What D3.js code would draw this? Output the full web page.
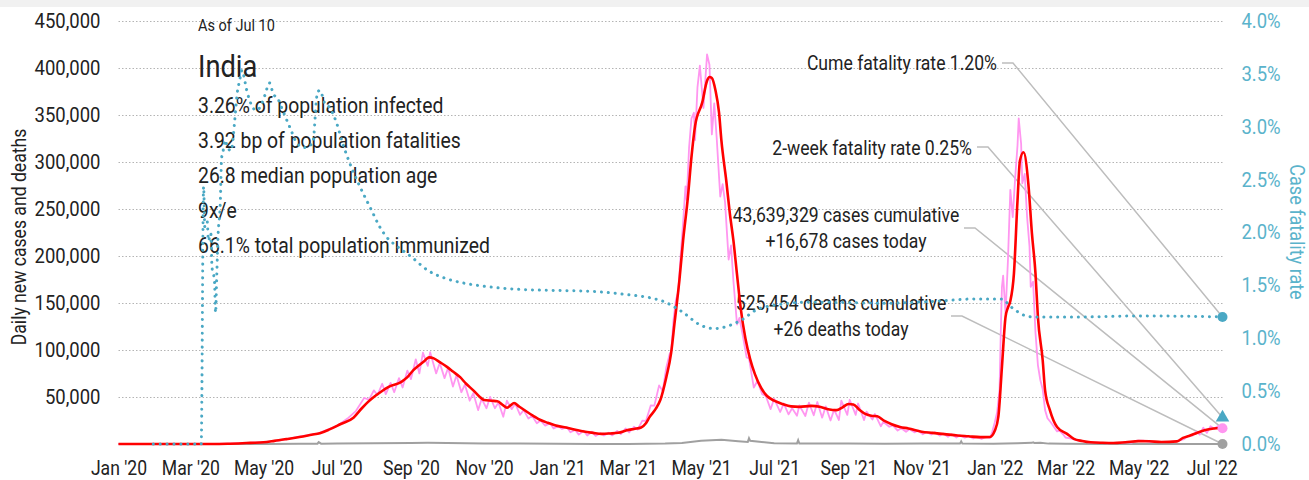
<!DOCTYPE html>
<html>
<head>
<meta charset="utf-8">
<script src="https://cdn.jsdelivr.net/npm/d3@7"></script>
<style>
  html, body { margin: 0; padding: 0; background: #fff; }
  svg { display: block; }
</style>
</head>
<body>
<svg id="chart" width="1309" height="480"></svg>
<script>
// ---- data ----------------------------------------------------------------
// Daily reported new cases
const casesDaily = [
  ["2020-01-01",0],["2020-03-01",1],["2020-03-20",50],["2020-04-01",400],["2020-04-15",1000],
  ["2020-05-01",2000],["2020-05-15",3900],["2020-06-01",8200],["2020-06-15",11000],["2020-07-01",19000],
  ["2020-07-10",27000],["2020-07-17",35000],["2020-07-24",49000],["2020-07-28",47000],["2020-08-01",57000],
  ["2020-08-04",52000],["2020-08-08",64000],["2020-08-11",53000],["2020-08-15",65000],["2020-08-18",55000],
  ["2020-08-22",70000],["2020-08-25",60000],["2020-08-29",78000],["2020-09-01",69000],["2020-09-05",90000],
  ["2020-09-08",75000],["2020-09-11",97000],["2020-09-15",83000],["2020-09-17",97500],["2020-09-22",75000],
  ["2020-09-25",86000],["2020-09-29",70000],["2020-10-02",81000],["2020-10-06",61000],["2020-10-09",73000],
  ["2020-10-13",55000],["2020-10-16",63000],["2020-10-20",46000],["2020-10-23",54000],["2020-10-27",36000],
  ["2020-10-30",48000],["2020-11-03",38000],["2020-11-06",50000],["2020-11-10",38000],["2020-11-13",44000],
  ["2020-11-17",29000],["2020-11-20",46000],["2020-11-24",37000],["2020-11-27",43000],["2020-12-01",31000],
  ["2020-12-04",36000],["2020-12-08",27000],["2020-12-11",30000],["2020-12-15",22000],["2020-12-18",25000],
  ["2020-12-22",19500],["2020-12-26",22000],["2020-12-29",16500],["2021-01-02",19000],["2021-01-05",16000],
  ["2021-01-09",18000],["2021-01-12",12500],["2021-01-16",15000],["2021-01-19",10000],["2021-01-23",14000],
  ["2021-01-26",9000],["2021-01-30",13000],["2021-02-02",8600],["2021-02-06",11500],["2021-02-09",9000],
  ["2021-02-13",12000],["2021-02-16",9100],["2021-02-20",13900],["2021-02-23",10500],["2021-02-27",16500],
  ["2021-03-02",12300],["2021-03-06",18300],["2021-03-09",15300],["2021-03-13",24800],["2021-03-16",24500],
  ["2021-03-20",40900],["2021-03-23",40700],["2021-03-27",62300],["2021-03-30",56200],["2021-04-02",81400],
  ["2021-04-05",96600],["2021-04-06",96900],["2021-04-08",131800],["2021-04-10",152900],["2021-04-12",161700],
  ["2021-04-14",200700],["2021-04-16",234700],["2021-04-18",273800],["2021-04-19",259100],["2021-04-21",315000],
  ["2021-04-23",346000],["2021-04-25",352000],["2021-04-26",323000],["2021-04-28",379000],["2021-04-30",402000],
  ["2021-05-03",357000],["2021-05-06",414000],["2021-05-08",403000],["2021-05-10",329000],["2021-05-12",362000],
  ["2021-05-14",326000],["2021-05-17",263000],["2021-05-19",276000],["2021-05-21",257000],["2021-05-24",196000],
  ["2021-05-26",211000],["2021-05-28",173000],["2021-05-31",127000],["2021-06-02",134000],["2021-06-05",114000],
  ["2021-06-08",92000],["2021-06-10",91000],["2021-06-14",60000],["2021-06-17",67000],["2021-06-21",53000],
  ["2021-06-24",51000],["2021-06-28",37000],["2021-07-01",48000],["2021-07-06",34000],["2021-07-09",43000],
  ["2021-07-13",31500],["2021-07-16",38000],["2021-07-20",30000],["2021-07-22",41000],["2021-07-27",29700],
  ["2021-07-30",44000],["2021-08-03",30500],["2021-08-06",44600],["2021-08-10",28000],["2021-08-13",40000],
  ["2021-08-17",25000],["2021-08-20",36500],["2021-08-24",25500],["2021-08-26",46000],["2021-08-31",30900],
  ["2021-09-02",47000],["2021-09-07",31000],["2021-09-09",43000],["2021-09-14",25400],["2021-09-16",34400],
  ["2021-09-21",26100],["2021-09-23",31900],["2021-09-28",18800],["2021-09-30",23500],["2021-10-05",18300],
  ["2021-10-08",19700],["2021-10-12",14300],["2021-10-15",16800],["2021-10-19",13000],["2021-10-22",15800],
  ["2021-10-26",12400],["2021-10-29",14300],["2021-11-02",10400],["2021-11-05",12700],["2021-11-09",10100],
  ["2021-11-12",12500],["2021-11-16",8900],["2021-11-19",11100],["2021-11-23",7600],["2021-11-26",10500],
  ["2021-11-30",6900],["2021-12-03",9200],["2021-12-07",6800],["2021-12-10",8500],["2021-12-14",5800],
  ["2021-12-17",7400],["2021-12-21",5300],["2021-12-24",7200],["2021-12-28",6400],["2021-12-30",13200],
  ["2022-01-01",22800],["2022-01-03",33700],["2022-01-05",58100],["2022-01-06",117100],["2022-01-07",167000],
  ["2022-01-08",179000],["2022-01-10",139000],["2022-01-12",194700],["2022-01-14",270000],["2022-01-16",241000],
  ["2022-01-18",282000],["2022-01-20",317500],["2022-01-21",346000],["2022-01-23",319000],["2022-01-24",277000],
  ["2022-01-26",287000],["2022-01-28",241000],["2022-01-30",209900],["2022-01-31",167000],["2022-02-02",172400],
  ["2022-02-04",118000],["2022-02-06",83900],["2022-02-08",68000],["2022-02-10",58100],["2022-02-12",36000],
  ["2022-02-14",27400],["2022-02-17",22600],["2022-02-20",16900],["2022-02-22",13400],["2022-02-24",14100],
  ["2022-02-27",10300],["2022-03-01",6900],["2022-03-05",5900],["2022-03-09",4600],["2022-03-12",3600],
  ["2022-03-16",2900],["2022-03-20",1800],["2022-03-25",1700],["2022-04-01",1300],["2022-04-05",800],
  ["2022-04-10",1100],["2022-04-15",1000],["2022-04-20",2100],["2022-04-25",1500],["2022-04-30",3600],
  ["2022-05-05",3500],["2022-05-10",2300],["2022-05-15",2200],["2022-05-20",2300],["2022-05-25",2100],
  ["2022-06-01",2700],["2022-06-04",3900],["2022-06-08",5200],["2022-06-11",8600],["2022-06-15",8800],
  ["2022-06-18",13200],["2022-06-21",9900],["2022-06-24",17300],["2022-06-27",11800],["2022-06-30",18900],
  ["2022-07-03",16100],["2022-07-06",18900],["2022-07-08",18800],["2022-07-10",16678]
];

// 7-day average of new cases
const casesAvg = [
  ["2020-01-01",0],["2020-03-01",2],["2020-03-15",12],["2020-03-25",60],["2020-04-01",230],["2020-04-10",600],
  ["2020-04-20",1200],["2020-05-01",1800],["2020-05-10",3300],["2020-05-20",5200],["2020-05-31",7400],
  ["2020-06-10",9800],["2020-06-17",11500],["2020-06-25",15500],["2020-07-04",21000],["2020-07-15",28000],
  ["2020-07-22",38000],["2020-07-27",44500],["2020-08-01",50000],["2020-08-07",55500],["2020-08-13",60500],
  ["2020-08-24",66000],["2020-08-29",71000],["2020-09-03",78500],["2020-09-08",84000],["2020-09-12",88000],
  ["2020-09-16",92000],["2020-09-20",91000],["2020-09-25",87000],["2020-10-01",82000],["2020-10-06",77000],
  ["2020-10-12",71000],["2020-10-17",64000],["2020-10-23",57000],["2020-10-28",50500],["2020-11-01",46700],
  ["2020-11-07",46000],["2020-11-12",45500],["2020-11-17",41000],["2020-11-20",38500],["2020-11-23",41000],
  ["2020-11-26",43500],["2020-11-30",40000],["2020-12-07",34000],["2020-12-12",30000],["2020-12-18",25500],
  ["2020-12-24",22500],["2020-12-30",20000],["2021-01-10",17000],["2021-01-21",13800],["2021-01-31",11800],
  ["2021-02-07",10800],["2021-02-14",11200],["2021-02-21",11900],["2021-02-28",14500],["2021-03-06",16000],
  ["2021-03-12",17500],["2021-03-16",22000],["2021-03-19",28600],["2021-03-24",37000],["2021-03-28",46700],
  ["2021-04-02",71000],["2021-04-06",96500],["2021-04-09",130000],["2021-04-13",175000],["2021-04-16",216000],
  ["2021-04-20",262000],["2021-04-23",305000],["2021-04-26",338000],["2021-05-02",363000],["2021-05-06",386000],
  ["2021-05-08",390000],["2021-05-10",389000],["2021-05-13",376000],["2021-05-16",352000],["2021-05-18",322000],
  ["2021-05-22",280000],["2021-05-25",245000],["2021-05-28",216000],["2021-05-31",180000],["2021-06-03",145000],
  ["2021-06-07",112000],["2021-06-11",90000],["2021-06-15",74000],["2021-06-20",60000],["2021-06-25",51000],
  ["2021-07-01",46000],["2021-07-08",42500],["2021-07-15",40000],["2021-07-22",39500],["2021-08-01",40500],
  ["2021-08-08",39500],["2021-08-15",37000],["2021-08-22",36000],["2021-08-27",39000],["2021-09-01",42500],
  ["2021-09-05",42000],["2021-09-10",36500],["2021-09-15",32000],["2021-09-20",30000],["2021-09-25",29500],
  ["2021-10-01",24500],["2021-10-07",21000],["2021-10-14",18000],["2021-10-21",16500],["2021-11-01",13000],
  ["2021-11-10",11800],["2021-11-20",10500],["2021-12-01",9000],["2021-12-10",8200],["2021-12-20",7300],
  ["2021-12-28",7500],["2022-01-01",14000],["2022-01-04",29000],["2022-01-07",82000],["2022-01-10",135000],
  ["2022-01-12",145000],["2022-01-14",152000],["2022-01-17",181000],["2022-01-20",259000],["2022-01-22",301000],
  ["2022-01-25",310000],["2022-01-29",277000],["2022-02-01",224000],["2022-02-04",181000],["2022-02-06",135000],
  ["2022-02-10",89000],["2022-02-12",57000],["2022-02-16",36000],["2022-02-22",18000],["2022-03-02",11000],
  ["2022-03-08",5500],["2022-03-15",3200],["2022-03-22",1800],["2022-04-01",1300],["2022-04-10",1100],
  ["2022-04-20",1900],["2022-05-01",3100],["2022-05-10",2900],["2022-05-20",2200],["2022-06-02",2800],
  ["2022-06-07",6500],["2022-06-12",8500],["2022-06-19",12000],["2022-06-25",14500],["2022-06-30",16000],
  ["2022-07-05",16800],["2022-07-10",17000]
];

// Daily reported deaths
const deathsDaily = [
  ["2020-01-01",0],["2020-04-01",5],["2020-05-01",70],["2020-06-01",220],["2020-06-15",330],["2020-06-16",2000],
  ["2020-06-18",340],["2020-07-01",450],["2020-08-01",800],["2020-09-01",1050],["2020-09-15",1200],
  ["2020-10-01",1100],["2020-11-01",550],["2020-12-01",480],["2021-01-01",250],["2021-02-01",110],
  ["2021-03-01",110],["2021-04-01",460],["2021-04-15",1100],["2021-05-01",3500],["2021-05-18",4500],
  ["2021-06-01",3000],["2021-06-09",2200],["2021-06-10",6150],["2021-06-11",3400],["2021-07-01",800],
  ["2021-07-20",600],["2021-07-21",4000],["2021-07-22",500],["2021-08-01",500],["2021-09-01",450],
  ["2021-10-01",300],["2021-11-01",450],["2021-12-03",400],["2021-12-04",2800],["2021-12-05",400],
  ["2021-12-31",300],["2022-01-20",700],["2022-02-01",1200],["2022-02-02",1700],["2022-02-03",1100],
  ["2022-02-08",1200],["2022-02-15",400],["2022-03-01",250],["2022-04-01",50],["2022-05-01",30],["2022-07-10",26]
];

// Cumulative case fatality rate, percent
const fatalityRate = [
  ["2020-01-30",0],["2020-03-10",0],["2020-03-12",2.43],["2020-03-13",2.05],["2020-03-15",2.1],["2020-03-16",1.92],
  ["2020-03-18",1.99],["2020-03-19",1.67],["2020-03-21",1.55],["2020-03-22",1.24],["2020-03-23",1.6],
  ["2020-03-24",1.95],["2020-03-26",2.3],["2020-03-27",2.7],["2020-03-28",2.75],["2020-03-30",2.87],
  ["2020-04-01",2.8],["2020-04-04",2.77],["2020-04-07",3.06],["2020-04-09",3.31],["2020-04-11",3.43],
  ["2020-04-13",3.53],["2020-04-14",3.5],["2020-04-17",3.34],["2020-04-21",3.2],["2020-04-25",3.15],
  ["2020-04-28",3.18],["2020-05-02",3.29],["2020-05-06",3.41],["2020-05-09",3.31],["2020-05-13",3.26],
  ["2020-05-17",3.15],["2020-05-23",2.99],["2020-05-29",2.84],["2020-06-04",2.8],["2020-06-11",2.84],
  ["2020-06-15",3.32],["2020-06-17",3.34],["2020-06-21",3.22],["2020-06-25",3.18],["2020-07-01",3.03],
  ["2020-07-06",2.84],["2020-07-12",2.65],["2020-07-18",2.49],["2020-07-23",2.37],["2020-07-30",2.21],
  ["2020-08-06",2.05],["2020-08-12",1.95],["2020-08-20",1.87],["2020-09-01",1.77],["2020-09-15",1.64],
  ["2020-10-01",1.56],["2020-10-15",1.52],["2020-11-01",1.49],["2020-12-01",1.46],["2021-01-01",1.45],
  ["2021-02-01",1.44],["2021-03-01",1.41],["2021-03-20",1.38],["2021-04-01",1.34],["2021-04-15",1.25],
  ["2021-05-01",1.12],["2021-05-12",1.09],["2021-05-25",1.12],["2021-06-05",1.18],["2021-06-15",1.26],
  ["2021-07-01",1.31],["2021-08-01",1.34],["2021-10-01",1.33],["2021-11-15",1.35],["2021-12-15",1.37],
  ["2022-01-07",1.37],["2022-01-14",1.3],["2022-01-20",1.25],["2022-01-27",1.21],["2022-02-03",1.2],
  ["2022-03-15",1.2],["2022-05-01",1.21],["2022-07-10",1.2]
];

// Latest values shown at the right edge
const latestDate = "2022-07-10";
const latestCases = 16678;
const latestDeaths = 26;
const cumeFatalityRate = 1.20;
const twoWeekFatalityRate = 0.25;
const cumulativeCases = 43639329;
const cumulativeDeaths = 525454;

// Tick values and text
const leftTicks = [50000,100000,150000,200000,250000,300000,350000,400000,450000];
const rightTicks = [0,0.5,1,1.5,2,2.5,3,3.5,4];
const monthTicks = ["2020-01-01","2020-03-01","2020-05-01","2020-07-01","2020-09-01","2020-11-01",
  "2021-01-01","2021-03-01","2021-05-01","2021-07-01","2021-09-01","2021-11-01",
  "2022-01-01","2022-03-01","2022-05-01","2022-07-01"];
const asOfLabel = "As of Jul 10";
const countryName = "India";
const infoLines = ["3.26% of population infected","3.92 bp of population fatalities",
  "26.8 median population age","9x/e","66.1% total population immunized"];

// ---- drawing -------------------------------------------------------------
const FONT = 'Roboto,"Liberation Sans",sans-serif';
const NARROW = 0.88;            // horizontal squeeze for a condensed look
const INK = "#222";
const BLUE = "#4aa8c4";
const BLUE_TEXT = "#5ab3cb";
const PINK = "#ff96f0";
const RED = "#ff0000";
const GRAY = "#a0a0a0";
const LEADER = "#bdbdbd";

const parse = d3.utcParse("%Y-%m-%d");
const toPoints = arr => arr.map(([d, v]) => ({ date: parse(d), value: v }));

const W = 1309, H = 480;
const plotLeft = 118.5, plotRight = 1222.5, plotTop = 20.5, plotBottom = 444;

const x = d3.scaleUtc().domain([parse("2020-01-01"), parse(latestDate)]).range([plotLeft, plotRight]);
const y = d3.scaleLinear().domain([0, 450000]).range([plotBottom, plotTop]);
const yR = d3.scaleLinear().domain([0, 4]).range([plotBottom, plotTop]);

const svg = d3.select("#chart").attr("font-family", FONT);

// narrow text helper: position, optional rotation, then squeeze along the baseline
function label(g, tx, ty, str, size, opts = {}) {
  const rot = opts.rotate ? ` rotate(${opts.rotate})` : "";
  return g.append("text")
    .attr("transform", `translate(${tx},${ty})${rot} scale(${NARROW},1)`)
    .attr("text-anchor", opts.anchor || "start")
    .attr("dominant-baseline", opts.baseline || "auto")
    .attr("font-size", size)
    .attr("fill", opts.fill || INK)
    .text(str);
}
function condenseAxis(g) {
  g.selectAll("text").each(function () {
    const t = d3.select(this);
    const tx = +t.attr("x") || 0;
    t.attr("x", tx / NARROW).attr("transform", `scale(${NARROW},1)`);
  });
}

svg.append("rect").attr("x", 0).attr("y", 0).attr("width", W).attr("height", 7).attr("fill", "#f1f1f1");

// dotted horizontal gridlines
svg.append("g").selectAll("line").data(leftTicks).join("line")
  .attr("x1", plotLeft).attr("x2", plotRight)
  .attr("y1", d => Math.round(y(d)) + 0.5).attr("y2", d => Math.round(y(d)) + 0.5)
  .attr("stroke", "#b4b4b4").attr("stroke-width", 1).attr("stroke-dasharray", "1.5,2");

// left axis
const gL = svg.append("g").attr("transform", `translate(${plotLeft},0)`)
  .call(d3.axisLeft(y).tickValues(leftTicks).tickSize(0).tickPadding(18).tickFormat(d3.format(",")));
gL.select(".domain").remove();
gL.attr("font-family", FONT).attr("font-size", 21);
gL.selectAll("text").attr("fill", INK);
condenseAxis(gL);

// bottom axis
const gB = svg.append("g").attr("transform", `translate(0,${plotBottom})`)
  .call(d3.axisBottom(x).tickValues(monthTicks.map(parse)).tickSize(0).tickPadding(17)
    .tickFormat(d3.utcFormat("%b '%y")));
gB.select(".domain").remove();
gB.attr("font-family", FONT).attr("font-size", 20);
gB.selectAll("text").attr("fill", INK);
condenseAxis(gB);

// right axis
const gR = svg.append("g").attr("transform", `translate(${plotRight},0)`)
  .call(d3.axisRight(yR).tickValues(rightTicks).tickSize(0).tickPadding(19).tickFormat(d => d.toFixed(1) + "%"));
gR.select(".domain").remove();
gR.attr("font-family", FONT).attr("font-size", 21);
gR.selectAll("text").attr("fill", BLUE_TEXT);
condenseAxis(gR);

// axis titles
label(svg, 20, 237, "Daily new cases and deaths", 20, { rotate: -90, anchor: "middle", baseline: "central" });
label(svg, 1297, 232, "Case fatality rate", 20.5, { rotate: 90, anchor: "middle", baseline: "central", fill: BLUE_TEXT });

// country summary block
const info = svg.append("g");
label(info, 198, 31, asOfLabel, 16.5);
label(info, 198, 77, countryName, 31);
infoLines.forEach((t, i) => label(info, 198, 113 + i * 35, t, 22));

// right-hand annotations with leader lines
const fmt = d3.format(",");
const endX = x(parse(latestDate));
const notes = [
  { lines: [`Cume fatality rate ${cumeFatalityRate.toFixed(2)}%`], anchor: "end", tx: 997, ty: [70],
    lx: 1002, ly: 63, target: yR(cumeFatalityRate) },
  { lines: [`2-week fatality rate ${twoWeekFatalityRate.toFixed(2)}%`], anchor: "end", tx: 972, ty: [155],
    lx: 977, ly: 147, target: yR(twoWeekFatalityRate) },
  { lines: [`${fmt(cumulativeCases)} cases cumulative`, `+${fmt(latestCases)} cases today`], anchor: "middle",
    tx: 846, ty: [222, 248], lx: 964, ly: 228, target: y(latestCases) },
  { lines: [`${fmt(cumulativeDeaths)} deaths cumulative`, `+${fmt(latestDeaths)} deaths today`], anchor: "middle",
    tx: 841, ty: [310, 336], lx: 951, ly: 316, target: y(latestDeaths) }
];
const gN = svg.append("g");
notes.forEach(n => {
  n.lines.forEach((t, i) => label(gN, n.tx, n.ty[i], t, 20, { anchor: n.anchor }));
  gN.append("path")
    .attr("d", `M${n.lx},${n.ly}H${n.lx + 11}L${endX},${n.target}`)
    .attr("fill", "none").attr("stroke", LEADER).attr("stroke-width", 1.5);
});

// series
const lineL = d3.line().x(d => x(d.date)).y(d => y(d.value));
const lineSmooth = d3.line().curve(d3.curveMonotoneX).x(d => x(d.date)).y(d => y(d.value));
const lineRate = d3.line().curve(d3.curveMonotoneX).x(d => x(d.date)).y(d => yR(d.value));

svg.append("path").datum(toPoints(deathsDaily)).attr("d", lineL)
  .attr("fill", "none").attr("stroke", GRAY).attr("stroke-width", 2);
svg.append("path").datum(toPoints(casesDaily)).attr("d", lineL)
  .attr("fill", "none").attr("stroke", PINK).attr("stroke-width", 1.8).attr("stroke-linejoin", "round");
svg.append("path").datum(toPoints(casesAvg)).attr("d", lineSmooth)
  .attr("fill", "none").attr("stroke", RED).attr("stroke-width", 2.6).attr("stroke-linejoin", "round");
svg.append("path").datum(toPoints(fatalityRate)).attr("d", lineRate)
  .attr("fill", "none").attr("stroke", BLUE).attr("stroke-width", 3)
  .attr("stroke-linecap", "round").attr("stroke-dasharray", "0.1,6.8");

// end markers
svg.append("circle").attr("cx", endX).attr("cy", y(latestDeaths)).attr("r", 5).attr("fill", GRAY);
svg.append("circle").attr("cx", endX).attr("cy", y(latestCases)).attr("r", 5).attr("fill", PINK);
svg.append("path").attr("d", d3.symbol(d3.symbolTriangle, 80)())
  .attr("transform", `translate(${endX},${yR(twoWeekFatalityRate)})`).attr("fill", BLUE);
svg.append("circle").attr("cx", endX).attr("cy", yR(cumeFatalityRate)).attr("r", 5).attr("fill", BLUE);
</script>
</body>
</html>
